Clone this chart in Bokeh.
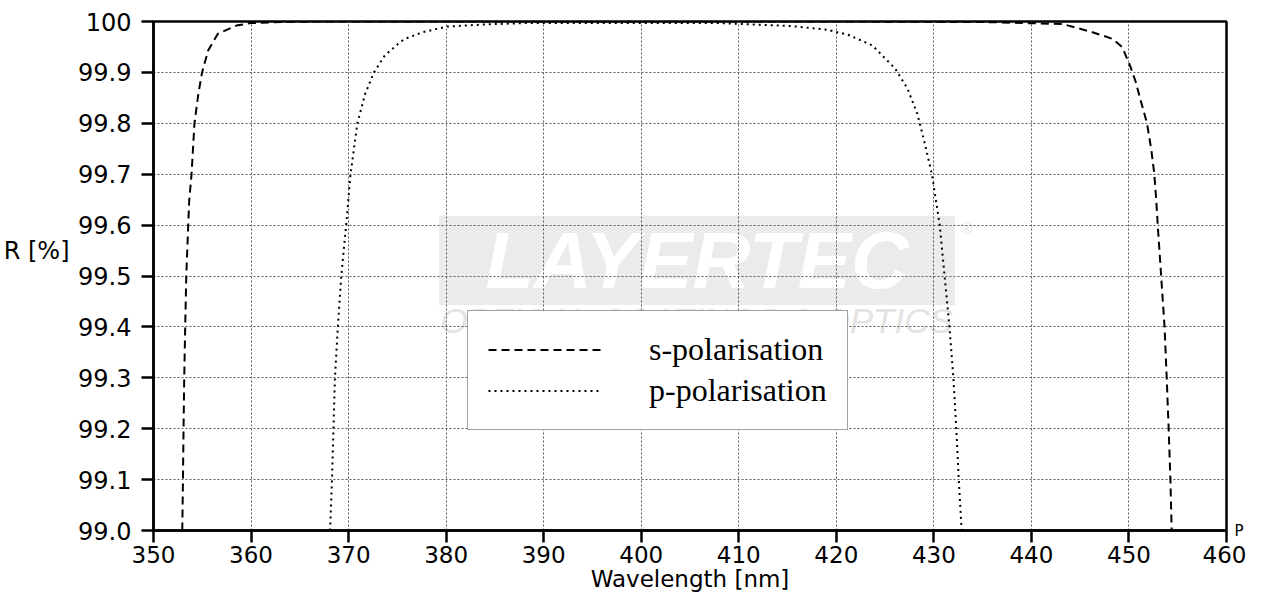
from bokeh.plotting import figure
from bokeh.models import Range1d, FixedTicker, Label, Legend, LegendItem, LinearAxis
from bokeh.embed import file_html
from bokeh.resources import INLINE

# ---- data ----
s_wavelength = [352.95, 353.02, 353.08, 353.15, 353.25, 353.36, 353.56, 353.66, 353.9, 354.2,
                354.6, 354.98, 355.6, 356.6, 358.5, 360.0, 363.5, 366.6, 380.0, 400.0,
                420.0, 435.05, 443.2, 446.25, 448.3, 449.3, 450.1, 450.65, 451.2, 451.85,
                452.3, 452.6, 452.8, 452.95, 453.3, 453.65, 453.87, 454.07, 454.25, 454.38]
s_reflectance = [99.0, 99.1, 99.2, 99.3, 99.4, 99.5, 99.6, 99.648, 99.70, 99.80,
                 99.858, 99.90, 99.943, 99.976, 99.992, 99.997, 99.999, 100.0, 100.0, 100.0,
                 100.0, 99.999, 99.995, 99.979, 99.966, 99.95, 99.914, 99.884, 99.845, 99.80,
                 99.747, 99.70, 99.648, 99.6, 99.5, 99.4, 99.3, 99.2, 99.1, 99.0]

p_wavelength = [368.1, 368.3, 368.45, 368.6, 368.9, 369.25, 369.75, 370.2, 370.9, 371.7,
                372.6, 373.7, 375.25, 375.8, 377.6, 380.1, 383.75, 388.1, 392.0, 400.0,
                408.0, 411.7, 415.4, 419.0, 421.2, 423.7, 426.05, 427.3, 428.3, 429.0,
                429.8, 430.6, 431.1, 431.6, 432.0, 432.3, 432.55, 432.85]
p_reflectance = [99.0, 99.1, 99.2, 99.3, 99.4, 99.5, 99.6, 99.70, 99.80, 99.858,
                 99.90, 99.933, 99.959, 99.966, 99.979, 99.99, 99.994, 99.997, 99.997, 99.997,
                 99.997, 99.994, 99.991, 99.984, 99.974, 99.953, 99.907, 99.868, 99.819, 99.766,
                 99.70, 99.6, 99.5, 99.4, 99.3, 99.2, 99.1, 99.0]

series_names = ["s-polarisation", "p-polarisation"]
x_ticks = [350, 360, 370, 380, 390, 400, 410, 420, 430, 440, 450, 460]
y_ticks = [99.0, 99.1, 99.2, 99.3, 99.4, 99.5, 99.6, 99.7, 99.8, 99.9, 100.0]
y_tick_labels = ["99.0", "99.1", "99.2", "99.3", "99.4", "99.5", "99.6", "99.7", "99.8", "99.9", "100"]
x_title = "Wavelength [nm]"
y_title = "R [%]"
y_title_at = 99.55          # the y title sits between the 99.6 and 99.5 ticks
corner_text = "P"           # stray glyph at the right end of the x axis
corner_at = 99.0

p = figure(width=1246, height=599, output_backend="svg", toolbar_location=None,
           x_range=Range1d(350, 460), y_range=Range1d(99.0, 100.0),
           min_border_left=150, min_border_right=14, min_border_top=21, min_border_bottom=69)
p.background_fill_color = "white"
p.border_fill_color = "white"
p.outline_line_color = "black"
p.outline_line_width = 2.5
p.outline_line_alpha = 1

p.xaxis.ticker = FixedTicker(ticks=x_ticks)
p.yaxis.ticker = FixedTicker(ticks=y_ticks)
p.yaxis.major_label_overrides = dict(zip(y_ticks, y_tick_labels))

for ax in (p.xaxis[0], p.yaxis[0]):
    ax.axis_line_color = "black"
    ax.axis_line_width = 2.5
    ax.major_tick_line_color = "black"
    ax.major_tick_line_width = 2.5
    ax.major_tick_out = 12
    ax.major_tick_in = 0
    ax.minor_tick_line_color = None
    ax.major_label_text_font = "DejaVu Sans"
    ax.major_label_text_color = "black"
p.yaxis.major_label_text_font_size = "24px"
p.xaxis.major_label_text_font_size = "23px"
p.yaxis.major_label_standoff = 10
p.xaxis.major_label_standoff = 3

p.xaxis.axis_label = x_title
p.xaxis.axis_label_standoff = 0
p.xaxis.axis_label_text_font = "DejaVu Sans"
p.xaxis.axis_label_text_font_size = "23px"
p.xaxis.axis_label_text_font_style = "normal"
p.xaxis.axis_label_text_color = "black"

# horizontal y title, placed as an extra label-only axis to the left of the tick labels
ytitle_axis = LinearAxis(ticker=FixedTicker(ticks=[y_title_at]),
                         major_label_overrides={y_title_at: y_title},
                         axis_line_color=None, major_tick_line_color=None,
                         minor_tick_line_color=None, major_label_standoff=0,
                         major_label_text_font="DejaVu Sans", major_label_text_font_size="24px",
                         major_label_text_color="black")
p.add_layout(ytitle_axis, "left")

corner_axis = LinearAxis(ticker=FixedTicker(ticks=[corner_at]),
                         major_label_overrides={corner_at: corner_text},
                         axis_line_color=None, major_tick_line_color=None,
                         minor_tick_line_color=None, major_label_standoff=2,
                         major_label_text_font="DejaVu Sans", major_label_text_font_size="15px",
                         major_label_text_color="black")
p.add_layout(corner_axis, "right")

for g in (p.xgrid[0], p.ygrid[0]):
    g.grid_line_color = "#5a5a5a"
    g.grid_line_dash = "2 2"
    g.grid_line_width = 1

# watermark (under the grid)
p.add_layout(Label(x=543.5, y=270, x_units="screen", y_units="screen", text="LAYERTEC",
                   text_align="center", text_baseline="middle",
                   text_font="Liberation Sans", text_font_size="80px", text_font_style="bold italic",
                   text_color="white", background_fill_color="#ebebeb", padding=(46, 0),
                   level="image"))
p.add_layout(Label(x=543.5, y=210, x_units="screen", y_units="screen",
                   text="OPTICAL COATINGS & OPTICS",
                   text_align="center", text_baseline="middle",
                   text_font="Liberation Sans", text_font_size="35px", text_font_style="italic",
                   text_color="#e3e3e3", level="image"))
p.add_layout(Label(x=813, y=302, x_units="screen", y_units="screen", text="®",
                   text_align="center", text_baseline="middle",
                   text_font="Liberation Sans", text_font_size="16px",
                   text_color="#e3e3e3", level="image"))

rs = p.line(s_wavelength, s_reflectance, line_color="black", line_width=2, line_dash="8 5")
rp = p.line(p_wavelength, p_reflectance, line_color="black", line_width=2, line_dash="2 4")

legend = Legend(items=[LegendItem(label=series_names[0], renderers=[rs]),
                       LegendItem(label=series_names[1], renderers=[rp])],
                location=(314, 100), glyph_width=113, glyph_height=29, label_height=29,
                label_width=177, label_standoff=48, padding=20, spacing=4, margin=0,
                label_text_font="Liberation Serif", label_text_font_size="32px",
                label_text_color="black",
                border_line_color="#444444", border_line_width=1.5,
                background_fill_color="white", background_fill_alpha=1)
p.add_layout(legend)

open("out.html", "w").write(file_html(p, INLINE))
